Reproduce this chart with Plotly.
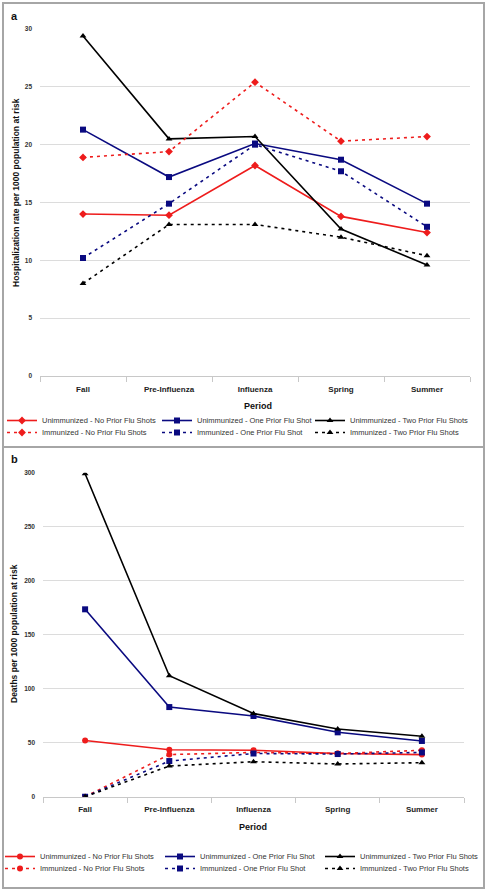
import plotly.graph_objects as go

periods = ["Fall", "Pre-Influenza", "Influenza", "Spring", "Summer"]
series_names = [
    "Unimmunized - No Prior Flu Shots",
    "Unimmunized - One Prior Flu Shot",
    "Unimmunized - Two Prior Flu Shots",
    "Immunized - No Prior Flu Shots",
    "Immunized - One Prior Flu Shot",
    "Immunized - Two Prior Flu Shots",
]

# Panel a: hospitalization rate per 1000 population at risk
hosp_unimm_none = [14.0, 13.9, 18.2, 13.8, 12.4]
hosp_unimm_one = [21.3, 17.2, 20.1, 18.7, 14.9]
hosp_unimm_two = [29.4, 20.5, 20.7, 12.7, 9.6]
hosp_imm_none = [18.9, 19.4, 25.4, 20.3, 20.7]
hosp_imm_one = [10.2, 14.9, 20.0, 17.7, 12.9]
hosp_imm_two = [8.0, 13.1, 13.1, 12.0, 10.4]

# Panel b: deaths per 1000 population at risk
death_unimm_none = [52, 43.5, 43, 40, 39]
death_unimm_one = [173.5, 83, 74.7, 59.6, 51.6]
death_unimm_two = [299, 112, 77, 62.7, 56]
death_imm_none = [0, 39, 41, 40, 43]
death_imm_one = [0, 33, 40, 39.5, 41]
death_imm_two = [0, 28.4, 32.4, 30.3, 31.5]

hosp_ticks = [0, 5, 10, 15, 20, 25, 30]
death_ticks = [0, 50, 100, 150, 200, 250, 300]

RED = "#ee1c1c"
NAVY = "#0a0a80"
BLACK = "#000000"
colors = [RED, NAVY, BLACK, RED, NAVY, BLACK]
dashes = ["solid", "solid", "solid", "3px,4px", "3px,4px", "3px,4px"]
symbols_a = ["diamond", "square", "triangle-up"] * 2
symbols_b = ["circle", "square", "triangle-up"] * 2

hosp = [hosp_unimm_none, hosp_unimm_one, hosp_unimm_two, hosp_imm_none, hosp_imm_one, hosp_imm_two]
death = [death_unimm_none, death_unimm_one, death_unimm_two, death_imm_none, death_imm_one, death_imm_two]

W, H = 487, 893
def px(x):
    return x / W
def py(y):
    return 1 - y / H

# legend item positions (left x, top y) in pixels
leg_x_a = [2, 157, 310]
leg_x_b = [0, 160, 320]
leg_y_a = [406, 418]
leg_y_b = [842, 854]

legfont = dict(family="Liberation Sans, Arial", size=7.5, color="#333")
legends = {}
fig = go.Figure()
for i, name in enumerate(series_names):
    key = "legend" if i == 0 else f"legend{i + 1}"
    legends[key] = dict(x=px(leg_x_a[i % 3]), y=py(leg_y_a[i // 3]), xanchor="left", yanchor="top",
                        itemwidth=30, font=legfont, bgcolor="rgba(0,0,0,0)")
    fig.add_trace(go.Scatter(
        x=periods, y=hosp[i], name=name, mode="lines+markers",
        line=dict(color=colors[i], width=1.6, dash=dashes[i]),
        marker=dict(symbol=symbols_a[i], size=6, color=colors[i]),
        xaxis="x", yaxis="y", legend=key,
    ))
for i, name in enumerate(series_names):
    key = f"legend{i + 7}"
    legends[key] = dict(x=px(leg_x_b[i % 3]), y=py(leg_y_b[i // 3]), xanchor="left", yanchor="top",
                        itemwidth=30, font=legfont, bgcolor="rgba(0,0,0,0)")
    fig.add_trace(go.Scatter(
        x=periods, y=death[i], name=name, mode="lines+markers",
        line=dict(color=colors[i], width=1.6, dash=dashes[i]),
        marker=dict(symbol=symbols_b[i], size=6, color=colors[i]),
        xaxis="x2", yaxis="y2", legend=key,
    ))

tickfont_x = dict(family="Liberation Sans, Arial", size=8, color="#222", weight="bold")
tickfont_y = dict(family="Liberation Sans, Arial", size=6.5, color="#333", weight="bold")

xcommon = dict(type="category", range=[-0.5, 4.5], showgrid=False, showline=True,
               linecolor="#c8c8c8", linewidth=1, ticks="outside", tickson="boundaries",
               ticklen=5, tickcolor="#c8c8c8", tickfont=tickfont_x, automargin=False,
               ticklabelstandoff=5, fixedrange=True)
ycommon = dict(showgrid=True, gridcolor="#dcdcdc", gridwidth=1, zeroline=False,
               showline=False, ticks="", tickfont=tickfont_y, automargin=False,
               ticklabelstandoff=7, fixedrange=True)

fig.update_layout(
    width=W, height=H, autosize=False,
    margin=dict(l=0, r=0, t=0, b=0),
    paper_bgcolor="white", plot_bgcolor="white",
    font=dict(family="Liberation Sans, Arial", color="#222"),
    xaxis=dict(domain=[px(40), px(470)], anchor="y", **xcommon),
    yaxis=dict(domain=[py(376), py(29)], anchor="x", range=[0, 30],
               tickvals=hosp_ticks, **ycommon),
    xaxis2=dict(domain=[px(43), px(464)], anchor="y2", **xcommon),
    yaxis2=dict(domain=[py(796.7), py(472.7)], anchor="x2", range=[0, 300],
                tickvals=death_ticks, **ycommon),
    showlegend=True,
    **legends,
)

shapes = [
    dict(type="rect", xref="paper", yref="paper", x0=px(3), x1=px(484), y0=py(447), y1=py(3),
         line=dict(color="#a6a6a6", width=2)),
    dict(type="rect", xref="paper", yref="paper", x0=px(3), x1=px(484), y0=py(888), y1=py(447),
         line=dict(color="#a6a6a6", width=2)),
]
fig.update_layout(shapes=shapes)

ann_font_title = dict(family="Liberation Sans, Arial", size=8.5, color="#111", weight="bold")
annotations = [
    dict(text="a", x=px(9), y=py(16), xref="paper", yref="paper", showarrow=False,
         xanchor="left", yanchor="middle", font=dict(family="Liberation Sans, Arial", size=11, color="#111", weight="bold")),
    dict(text="b", x=px(9), y=py(459), xref="paper", yref="paper", showarrow=False,
         xanchor="left", yanchor="middle", font=dict(family="Liberation Sans, Arial", size=11, color="#111", weight="bold")),
    dict(text="Hospitalization rate per 1000 population at risk", x=px(16), y=py(193),
         xref="paper", yref="paper", showarrow=False, textangle=-90,
         xanchor="center", yanchor="middle", font=ann_font_title),
    dict(text="Deaths per 1000 population at risk", x=px(14), y=py(634),
         xref="paper", yref="paper", showarrow=False, textangle=-90,
         xanchor="center", yanchor="middle", font=ann_font_title),
    dict(text="Period", x=px(258), y=py(406), xref="paper", yref="paper", showarrow=False,
         xanchor="center", yanchor="middle", font=dict(family="Liberation Sans, Arial", size=9, color="#111", weight="bold")),
    dict(text="Period", x=px(253), y=py(827), xref="paper", yref="paper", showarrow=False,
         xanchor="center", yanchor="middle", font=dict(family="Liberation Sans, Arial", size=9, color="#111", weight="bold")),
]
fig.update_layout(annotations=annotations)

fig.write_html("out.html", config={"displayModeBar": False},
               post_script="document.body.style.margin='0';document.body.style.overflow='hidden';")
